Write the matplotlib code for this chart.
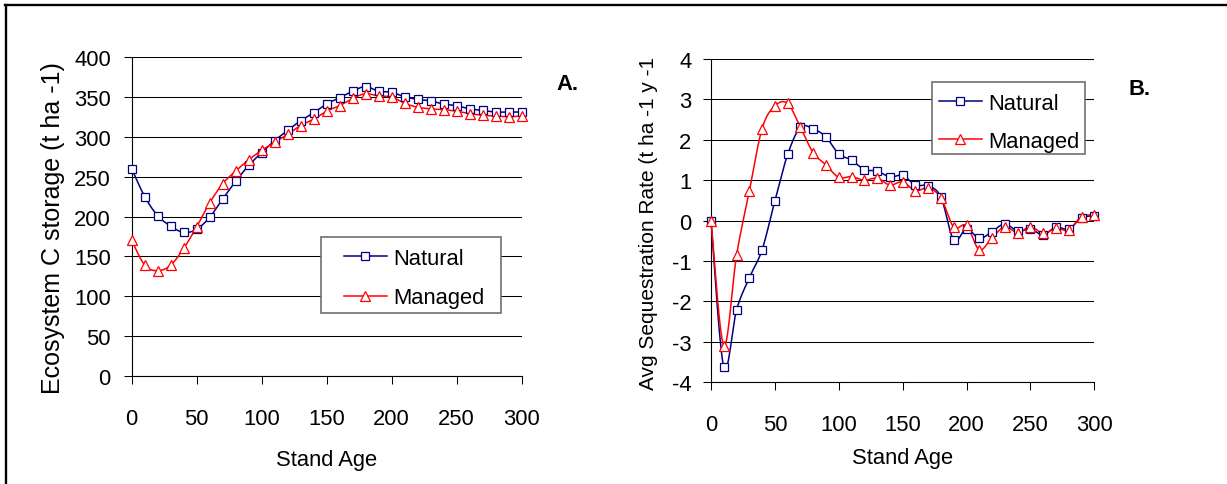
import numpy as np
import matplotlib
matplotlib.use('Agg')
import matplotlib.pyplot as plt
from matplotlib.patches import Rectangle
from matplotlib.lines import Line2D
from matplotlib.transforms import Bbox, TransformedBbox

plt.rcParams['font.family'] = ['Liberation Sans', 'DejaVu Sans']
plt.rcParams['axes.unicode_minus'] = False

# ---------------- data ----------------
stand_age = [0, 10, 20, 30, 40, 50, 60, 70, 80, 90, 100, 110, 120, 130, 140, 150,
             160, 170, 180, 190, 200, 210, 220, 230, 240, 250, 260, 270, 280, 290, 300]

storage_natural = [260, 225, 201, 188, 180, 184, 199, 222, 244, 264, 280, 295, 308, 320,
                   330, 341, 349, 357, 363, 357, 356, 350, 347, 345, 341, 339, 335, 333,
                   331, 331, 331]
storage_managed = [170, 139, 132, 139, 160, 187, 217, 241, 257, 271, 283, 293, 303, 314,
                   322, 332, 339, 348, 354, 351, 350, 342, 337, 335, 334, 332, 329, 327,
                   326, 325, 326]

rate_natural = [0.0, -3.62, -2.21, -1.41, -0.72, 0.49, 1.64, 2.31, 2.27, 2.07, 1.65, 1.50,
                1.26, 1.23, 1.08, 1.12, 0.88, 0.86, 0.58, -0.48, -0.20, -0.44, -0.27,
                -0.08, -0.26, -0.21, -0.35, -0.16, -0.21, 0.07, 0.12]
rate_managed = [0.0, -3.09, -0.86, 0.73, 2.28, 2.84, 2.90, 2.31, 1.68, 1.38, 1.07, 1.09,
                1.00, 1.05, 0.88, 0.96, 0.74, 0.81, 0.56, -0.16, -0.12, -0.72, -0.42,
                -0.15, -0.30, -0.15, -0.31, -0.19, -0.23, 0.10, 0.14]

series_labels = ['Natural', 'Managed']
x_ticks = [0, 50, 100, 150, 200, 250, 300]
yticks_a = [0, 50, 100, 150, 200, 250, 300, 350, 400]
yticks_b = [-4, -3, -2, -1, 0, 1, 2, 3, 4]

# ---------------- helpers ----------------
W, H = 1227, 485
FS = 15.8
NAVY = '#000080'
RED = '#FF0000'


def smooth(x, y, n=16):
    """Excel-like smoothed line (Catmull-Rom Bezier) through the data points."""
    p = np.column_stack([np.asarray(x, float), np.asarray(y, float)])
    pts = np.vstack([p[0], p, p[-1]])
    out = []
    t = np.linspace(0, 1, n, endpoint=False)[:, None]
    for i in range(1, len(pts) - 2):
        p0, p1, p2, p3 = pts[i - 1], pts[i], pts[i + 1], pts[i + 2]
        c1 = p1 + (p2 - p0) / 6.0
        c2 = p2 - (p3 - p1) / 6.0
        b = ((1 - t) ** 3) * p1 + 3 * ((1 - t) ** 2) * t * c1 + 3 * (1 - t) * t ** 2 * c2 + t ** 3 * p2
        out.append(b)
    out.append(p[-1][None, :])
    out = np.vstack(out)
    return out[:, 0], out[:, 1]


def rect(l, r, t, b):
    return [l / W, 1 - b / H, (r - l) / W, (b - t) / H]


fig = plt.figure(figsize=(W / 100, H / 100), dpi=100)
fig.patch.set_facecolor('white')

axA = fig.add_axes(rect(131.7, 521.5, 58, 377))
axB = fig.add_axes(rect(711, 1094.3, 60, 383.3))


def style(ax, yticks, ypad):
    for s in ['top', 'right']:
        ax.spines[s].set_visible(False)
    for s in ['left', 'bottom']:
        ax.spines[s].set_color('black')
        ax.spines[s].set_linewidth(0.8)
    ax.set_xlim(0, 300)
    ax.set_ylim(yticks[0], yticks[-1])
    ax.set_xticks(x_ticks)
    ax.set_yticks(yticks)
    ax.tick_params(axis='both', direction='out', length=6.0, width=0.75, color='black',
                   labelsize=FS, labelcolor='black')
    ax.tick_params(axis='y', pad=ypad)
    ax.tick_params(axis='x', pad=17.0)
    ax.yaxis.grid(True, color='black', linewidth=0.75)
    ax.set_axisbelow(True)
    ax.set_xlabel('Stand Age', fontsize=FS)


style(axA, yticks_a, 9.0)
style(axB, yticks_b, 8.0)


def draw_series(ax, yn, ym):
    xs, ys = smooth(stand_age, yn)
    ax.plot(xs, ys, color=NAVY, lw=1.1, zorder=3, clip_on=False)
    ax.plot(stand_age, yn, ls='none', marker='s', ms=6.0, mfc='white', mec=NAVY,
            mew=0.9, zorder=4, clip_on=False)
    xs, ys = smooth(stand_age, ym)
    ax.plot(xs, ys, color=RED, lw=1.1, zorder=3, clip_on=False)
    ax.plot(stand_age, ym, ls='none', marker='^', ms=7.0, mfc='white', mec=RED,
            mew=0.9, zorder=4, clip_on=False)


draw_series(axA, storage_natural, storage_managed)
draw_series(axB, rate_natural, rate_managed)

# x labels
axA.xaxis.set_label_coords(326.6 / W, 1 - 450 / H, transform=fig.transFigure)
axB.xaxis.set_label_coords(902.6 / W, 1 - 448 / H, transform=fig.transFigure)
for ax in (axA, axB):
    ax.xaxis.label.set_va('top')

# y labels (clipped at the top like the original)
clip = TransformedBbox(Bbox([[0, 0], [1, 1 - 59 / H]]), fig.transFigure)
axA.set_ylabel('Ecosystem C storage (t ha -1)', fontsize=18.0)
axB.set_ylabel('Avg Sequestration Rate (t ha -1 y -1)', fontsize=15.0)
axA.yaxis.set_label_coords(53 / W, 1 - 394 / H, transform=fig.transFigure)
axB.yaxis.set_label_coords(648 / W, 1 - 390 / H, transform=fig.transFigure)
for ax in (axA, axB):
    lab = ax.yaxis.label
    lab.set_rotation_mode('default')
    lab.set_va('bottom')
    lab.set_ha('center')
    lab.set_clip_box(clip)
    lab.set_clip_on(True)


# legends
def make_legend(ax, box, anchor, lspace):
    l, r, t, b = box
    ax.add_patch(Rectangle((l / W, 1 - b / H), (r - l) / W, (b - t) / H,
                           transform=fig.transFigure, facecolor='white',
                           edgecolor='#707070', lw=1.2, zorder=6, clip_on=False))
    handles = [Line2D([], [], color=NAVY, lw=1.1, marker='s', ms=6.0, mfc='white',
                      mec=NAVY, mew=0.9),
               Line2D([], [], color=RED, lw=1.1, marker='^', ms=7.0, mfc='white',
                      mec=RED, mew=0.9)]
    leg = ax.legend(handles, series_labels, loc='upper left',
                    bbox_to_anchor=(anchor[0] / W, 1 - anchor[1] / H),
                    bbox_transform=fig.transFigure, frameon=False, fontsize=FS,
                    borderpad=0, borderaxespad=0, handlelength=1.95,
                    handletextpad=0.3, labelspacing=lspace, numpoints=1)
    leg.set_zorder(7)


make_legend(axA, (320.7, 501, 238, 314.3), (344, 249.1), 0.83)
make_legend(axB, (931.7, 1085.3, 82.7, 155), (939, 93.8), 0.78)

# panel letters
fig.text(567.5 / W, 1 - 90 / H, 'A.', fontsize=FS, fontweight='bold', ha='center',
         va='baseline')
fig.text(1139.5 / W, 1 - 95 / H, 'B.', fontsize=FS, fontweight='bold', ha='center',
         va='baseline')

# outer frame (left and top edges visible)
fig.add_artist(Line2D([6.2 / W, 6.2 / W], [0, 1 - 6.2 / H], transform=fig.transFigure,
                      color='black', lw=1.7))
fig.add_artist(Line2D([5.4 / W, 1], [1 - 6.2 / H, 1 - 6.2 / H], transform=fig.transFigure,
                      color='black', lw=1.7))

fig.savefig('out.png', dpi=100, facecolor='white')
